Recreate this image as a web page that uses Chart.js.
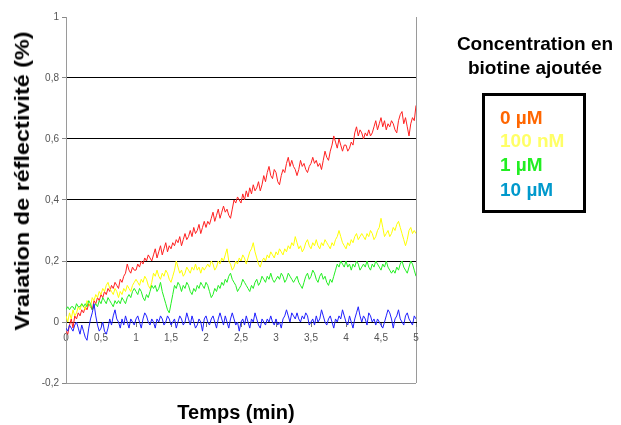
<!DOCTYPE html>
<html>
<head>
<meta charset="utf-8">
<script src="https://cdn.jsdelivr.net/npm/chart.js@4/dist/chart.umd.min.js"></script>
<style>
html,body{margin:0;padding:0;background:#fff;}
#wrap{position:relative;width:621px;height:425px;overflow:hidden;font-family:"Liberation Sans",Arial,sans-serif;}
canvas{position:absolute;left:0;top:0;}
.t{position:absolute;font-weight:bold;color:#000;white-space:nowrap;}
#ytitle{left:22px;top:181px;font-size:20px;transform:translate(-50%,-50%) rotate(-90deg) scale(1.17,1.05);}
#xtitle{left:236px;top:412px;font-size:20px;transform:translate(-50%,-50%);}
#ltitle{left:535px;top:56px;font-size:19px;line-height:24px;text-align:center;transform:translate(-50%,-50%);}
#lbox{position:absolute;left:482px;top:93px;width:98px;height:114px;border:3px solid #000;}
.li{position:absolute;left:15px;font-size:19px;font-weight:bold;line-height:22px;}
</style>
</head>
<body>
<div id="wrap">
<canvas id="c" width="621" height="425"></canvas>
<div class="t" id="ytitle">Vraiation de réflectivité (%)</div>
<div class="t" id="xtitle">Temps (min)</div>
<div class="t" id="ltitle">Concentration en<br>biotine ajoutée</div>
<div id="lbox"></div>
</div>
<script>
const seriesNames = ["0 µM", "100 nM", "1 µM", "10 µM"];
const legendColors = ["#ff6600", "#ffff66", "#22ee22", "#0099cc"];
const lineColors = ["#ff2020", "#ffff00", "#22ee22", "#2020ff"];
const xTicks = [0,0.5,1,1.5,2,2.5,3,3.5,4,4.5,5];
const yTicks = [-0.2,0,0.2,0.4,0.6,0.8,1];

const times = [0,0.025,0.05,0.075,0.1,0.125,0.15,0.175,0.2,0.225,
0.25,0.275,0.3,0.325,0.35,0.375,0.4,0.425,0.45,0.475,
0.5,0.525,0.55,0.575,0.6,0.625,0.65,0.675,0.7,0.725,
0.75,0.775,0.8,0.825,0.85,0.875,0.9,0.925,0.95,0.975,
1,1.025,1.05,1.075,1.1,1.125,1.15,1.175,1.2,1.225,
1.25,1.275,1.3,1.325,1.35,1.375,1.4,1.425,1.45,1.475,
1.5,1.525,1.55,1.575,1.6,1.625,1.65,1.675,1.7,1.725,
1.75,1.775,1.8,1.825,1.85,1.875,1.9,1.925,1.95,1.975,
2,2.025,2.05,2.075,2.1,2.125,2.15,2.175,2.2,2.225,
2.25,2.275,2.3,2.325,2.35,2.375,2.4,2.425,2.45,2.475,
2.5,2.525,2.55,2.575,2.6,2.625,2.65,2.675,2.7,2.725,
2.75,2.775,2.8,2.825,2.85,2.875,2.9,2.925,2.95,2.975,
3,3.025,3.05,3.075,3.1,3.125,3.15,3.175,3.2,3.225,
3.25,3.275,3.3,3.325,3.35,3.375,3.4,3.425,3.45,3.475,
3.5,3.525,3.55,3.575,3.6,3.625,3.65,3.675,3.7,3.725,
3.75,3.775,3.8,3.825,3.85,3.875,3.9,3.925,3.95,3.975,
4,4.025,4.05,4.075,4.1,4.125,4.15,4.175,4.2,4.225,
4.25,4.275,4.3,4.325,4.35,4.375,4.4,4.425,4.45,4.475,
4.5,4.525,4.55,4.575,4.6,4.625,4.65,4.675,4.7,4.725,
4.75,4.775,4.8,4.825,4.85,4.875,4.9,4.925,4.95,4.975,
5];

const red0uM = [-0.03,-0.04,-0.01,0.01,-0.02,0.02,0.01,0.03,0.02,0.04,
0.03,0.05,0.04,0.06,0.05,0.04,0.07,0.06,0.08,0.07,
0.09,0.08,0.10,0.09,0.11,0.10,0.12,0.11,0.13,0.12,
0.11,0.14,0.13,0.15,0.16,0.19,0.17,0.16,0.18,0.17,
0.17,0.19,0.18,0.20,0.19,0.21,0.20,0.22,0.21,0.20,
0.22,0.24,0.21,0.23,0.25,0.22,0.24,0.26,0.23,0.25,
0.24,0.26,0.25,0.27,0.26,0.28,0.25,0.27,0.29,0.27,
0.28,0.30,0.28,0.31,0.29,0.30,0.32,0.29,0.31,0.33,
0.31,0.33,0.32,0.34,0.36,0.33,0.35,0.37,0.34,0.36,
0.38,0.36,0.37,0.35,0.34,0.37,0.40,0.39,0.41,0.40,
0.39,0.42,0.40,0.43,0.41,0.44,0.42,0.45,0.43,0.44,
0.46,0.43,0.45,0.48,0.46,0.49,0.51,0.48,0.47,0.50,
0.49,0.46,0.45,0.48,0.50,0.49,0.52,0.54,0.51,0.53,
0.51,0.50,0.48,0.50,0.53,0.51,0.52,0.50,0.49,0.51,
0.52,0.54,0.52,0.53,0.51,0.52,0.50,0.53,0.56,0.54,
0.53,0.56,0.58,0.61,0.59,0.57,0.60,0.58,0.56,0.58,
0.58,0.56,0.57,0.59,0.58,0.62,0.64,0.61,0.63,0.62,
0.60,0.62,0.61,0.63,0.61,0.62,0.64,0.66,0.63,0.65,
0.67,0.64,0.66,0.63,0.65,0.64,0.66,0.65,0.63,0.62,
0.66,0.68,0.69,0.65,0.67,0.64,0.61,0.65,0.67,0.66,
0.71];

const yellow100nM = [0.02,0.00,0.03,0.01,0.04,0.02,0.03,0.05,0.04,0.06,
0.05,0.04,0.07,0.06,0.05,0.08,0.07,0.09,0.08,0.10,
0.09,0.11,0.10,0.12,0.13,0.11,0.10,0.09,0.11,0.10,
0.08,0.10,0.09,0.11,0.10,0.12,0.11,0.10,0.12,0.13,
0.14,0.13,0.12,0.14,0.13,0.15,0.14,0.12,0.11,0.13,
0.16,0.15,0.17,0.15,0.14,0.16,0.15,0.17,0.16,0.14,
0.13,0.15,0.17,0.20,0.18,0.16,0.17,0.15,0.16,0.18,
0.17,0.16,0.18,0.17,0.19,0.17,0.18,0.16,0.18,0.17,
0.18,0.19,0.18,0.20,0.19,0.17,0.18,0.20,0.19,0.21,
0.20,0.22,0.24,0.20,0.19,0.17,0.18,0.20,0.19,0.21,
0.20,0.22,0.21,0.19,0.21,0.23,0.24,0.26,0.23,0.21,
0.19,0.18,0.20,0.21,0.20,0.22,0.21,0.23,0.22,0.21,
0.23,0.22,0.24,0.23,0.22,0.24,0.23,0.25,0.24,0.26,
0.25,0.28,0.26,0.24,0.25,0.23,0.24,0.26,0.27,0.25,
0.24,0.26,0.25,0.27,0.25,0.24,0.26,0.25,0.27,0.26,
0.25,0.24,0.26,0.25,0.27,0.28,0.30,0.28,0.26,0.25,
0.24,0.26,0.25,0.27,0.26,0.28,0.29,0.27,0.28,0.29,
0.28,0.27,0.29,0.28,0.30,0.29,0.27,0.28,0.30,0.31,
0.34,0.31,0.28,0.29,0.30,0.28,0.29,0.31,0.30,0.32,
0.33,0.31,0.29,0.27,0.25,0.27,0.30,0.31,0.29,0.30,
0.29];

const green1uM = [0.04,0.05,0.04,0.05,0.05,0.04,0.06,0.05,0.05,0.06,
0.05,0.06,0.05,0.07,0.06,0.04,0.05,0.06,0.05,0.07,
0.06,0.08,0.07,0.06,0.08,0.07,0.06,0.05,0.07,0.06,
0.07,0.06,0.08,0.07,0.06,0.08,0.09,0.08,0.10,0.11,
0.10,0.09,0.11,0.10,0.08,0.07,0.09,0.08,0.10,0.12,
0.11,0.12,0.10,0.11,0.13,0.10,0.08,0.06,0.04,0.03,
0.06,0.09,0.12,0.11,0.13,0.12,0.10,0.12,0.11,0.13,
0.12,0.10,0.09,0.11,0.10,0.12,0.11,0.13,0.12,0.11,
0.13,0.12,0.10,0.08,0.09,0.11,0.10,0.12,0.11,0.13,
0.12,0.14,0.13,0.15,0.16,0.14,0.13,0.12,0.10,0.11,
0.12,0.14,0.13,0.12,0.11,0.10,0.12,0.11,0.13,0.14,
0.12,0.13,0.15,0.14,0.13,0.15,0.14,0.16,0.14,0.13,
0.14,0.15,0.14,0.16,0.15,0.13,0.14,0.16,0.15,0.14,
0.13,0.14,0.15,0.13,0.12,0.11,0.13,0.15,0.16,0.14,
0.15,0.17,0.16,0.14,0.13,0.15,0.16,0.14,0.15,0.13,
0.12,0.14,0.13,0.15,0.17,0.19,0.18,0.20,0.19,0.18,
0.20,0.18,0.19,0.17,0.19,0.18,0.20,0.19,0.17,0.18,
0.19,0.18,0.20,0.18,0.17,0.19,0.18,0.20,0.19,0.18,
0.17,0.19,0.18,0.20,0.18,0.17,0.16,0.17,0.16,0.18,
0.17,0.19,0.20,0.18,0.17,0.16,0.18,0.20,0.19,0.17,
0.15];

const blue10uM = [-0.02,-0.03,-0.01,-0.02,-0.03,-0.01,0.00,-0.02,-0.04,-0.01,
-0.03,-0.05,-0.06,-0.02,0.01,0.03,0.06,0.02,-0.01,-0.03,
-0.02,0.00,-0.03,-0.04,-0.02,0.01,-0.01,0.02,0.04,0.01,
0.00,-0.02,0.01,-0.01,0.02,0.00,-0.02,0.01,0.00,-0.01,
0.01,0.02,0.00,-0.02,0.01,0.03,0.02,0.00,-0.01,0.01,
0.00,-0.02,0.01,0.00,0.02,0.01,-0.01,0.00,0.02,0.01,
-0.01,0.00,0.01,-0.02,0.00,0.02,0.01,-0.01,0.00,0.03,
0.01,-0.01,0.02,0.00,-0.02,-0.01,0.01,0.00,-0.03,0.01,
0.02,0.00,-0.01,0.01,0.02,0.00,-0.02,0.01,0.03,0.01,
-0.01,0.02,0.00,-0.02,0.01,0.03,0.01,-0.01,0.00,-0.03,
0.00,0.01,-0.01,0.02,0.00,-0.02,0.01,0.00,0.03,0.01,
-0.01,-0.02,0.01,0.00,-0.01,0.01,0.00,0.02,0.00,-0.01,
0.01,-0.01,0.00,-0.02,0.01,0.02,0.04,0.02,0.00,0.03,
0.02,0.01,0.03,0.01,0.00,0.02,0.01,0.03,0.02,-0.01,
0.00,0.01,-0.01,0.02,0.00,0.01,0.04,0.02,0.00,-0.01,
0.01,0.02,0.00,-0.02,0.01,0.00,0.02,0.01,0.04,0.02,
0.00,-0.01,0.02,0.00,-0.02,0.01,0.03,0.05,0.02,0.00,
0.02,0.01,-0.01,0.03,0.02,0.00,0.01,-0.01,0.01,0.00,
-0.01,-0.02,0.00,0.02,0.04,0.03,0.01,-0.02,0.01,0.02,
0.04,0.01,0.00,-0.01,0.02,0.03,0.01,0.00,-0.01,0.02,
0.01];

const seriesValues = [red0uM, yellow100nM, green1uM, blue10uM];

// legend entries as HTML text
const lbox = document.getElementById('lbox');
const legendTops = [22, 45, 69, 94];
seriesNames.forEach((n, i) => {
  const d = document.createElement('div');
  d.className = 'li';
  d.textContent = n;
  d.style.color = legendColors[i];
  d.style.top = (legendTops[i] - 11) + 'px';
  lbox.appendChild(d);
});

const fmt = v => String(Math.round(v * 10) / 10).replace('.', ',');
const tickFont = {family: "'Liberation Sans Narrow','Liberation Sans',Arial,sans-serif", size: 10};

new Chart(document.getElementById('c'), {
  type: 'line',
  data: {
    datasets: seriesValues.map((vals, i) => ({
      label: seriesNames[i],
      data: times.map((t, k) => ({x: t, y: vals[k]})),
      borderColor: lineColors[i],
      borderWidth: 1,
      pointRadius: 0,
      tension: 0,
      fill: false
    })).reverse()
  },
  options: {
    responsive: false,
    devicePixelRatio: 1,
    animation: false,
    layout: {padding: {left: 0, right: 205, top: 17, bottom: 42}},
    plugins: {legend: {display: false}, tooltip: {enabled: false}},
    scales: {
      x: {
        type: 'linear',
        min: 0, max: 5,
        position: {y: 0},
        afterBuildTicks: s => { s.ticks = xTicks.map(v => ({value: v})); },
        ticks: {callback: v => fmt(v), font: tickFont, color: '#555', padding: 6, maxRotation: 0, autoSkip: false},
        grid: {
          color: c => (c.tick && c.tick.value === 5) ? '#9a9a9a' : 'rgba(0,0,0,0)',
          tickColor: '#777',
          tickLength: 4,
          lineWidth: 1
        },
        border: {display: true, color: '#000', width: 1}
      },
      y: {
        min: -0.2, max: 1,
        afterBuildTicks: s => { s.ticks = yTicks.map(v => ({value: v})); },
        afterFit: s => { s.width = 66; },
        ticks: {callback: v => fmt(v), font: tickFont, color: '#555', padding: 3},
        grid: {
          color: c => {
            const v = c.tick ? Math.round(c.tick.value * 10) / 10 : null;
            if (v === 1) return 'rgba(0,0,0,0)';
            if (v === -0.2) return '#9a9a9a';
            return '#000';
          },
          tickColor: '#888',
          tickLength: 4,
          lineWidth: 1
        },
        border: {color: '#9a9a9a', width: 1}
      }
    }
  }
});
</script>
</body>
</html>
